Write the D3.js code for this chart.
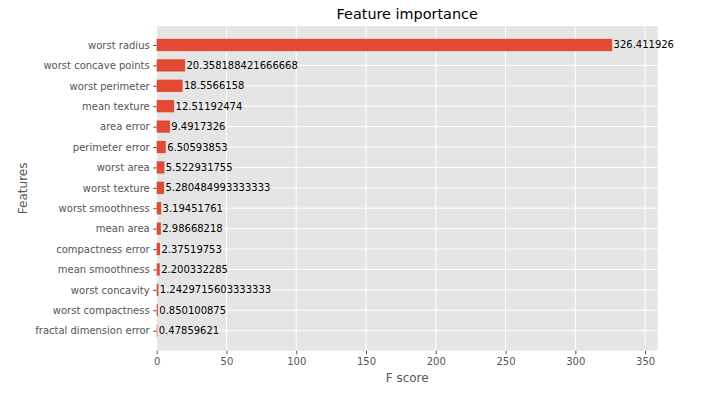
<!DOCTYPE html>
<html>
<head>
<meta charset="utf-8">
<script src="https://cdn.jsdelivr.net/npm/d3@7"></script>
<style>
  body { margin: 0; background: #fff; }
  svg { font-family: "DejaVu Sans", sans-serif; }
</style>
</head>
<body>
<svg id="chart" width="701" height="407"></svg>
<script>
// features listed bottom to top, like matplotlib's barh
var features = [
    "fractal dimension error", "worst compactness", "worst concavity",
    "mean smoothness", "compactness error", "mean area", "worst smoothness",
    "worst texture", "worst area", "perimeter error", "area error",
    "mean texture", "worst perimeter", "worst concave points", "worst radius"
];
var scores = [
    0.47859621, 0.850100875, 1.2429715603333333,
    2.200332285, 2.37519753, 2.98668218, 3.19451761,
    5.280484993333333, 5.522931755, 6.50593853, 9.4917326,
    12.51192474, 18.5566158, 20.358188421666668, 326.411926
];
var scoreLabels = [
    "0.47859621", "0.850100875", "1.2429715603333333",
    "2.200332285", "2.37519753", "2.98668218", "3.19451761",
    "5.280484993333333", "5.522931755", "6.50593853", "9.4917326",
    "12.51192474", "18.5566158", "20.358188421666668", "326.411926"
];
var xTicks = [0, 50, 100, 150, 200, 250, 300, 350];

var svg = d3.select("#chart");
// note: "top" is taken by window.top, so use plot* names
var plotLeft = 156.7, plotRight = 657.7, plotTop = 26, plotBottom = 350.7;
var barHeight = 0.6;

var x = d3.scaleLinear()
    .domain([0, d3.max(scores) * 1.1])
    .range([plotLeft, plotRight]);

var y = d3.scaleLinear()
    .domain([-0.98, 14.93])
    .range([plotBottom, plotTop]);

var grey = "#555555";

// panel background
svg.append("rect")
    .attr("x", plotLeft).attr("y", plotTop)
    .attr("width", plotRight - plotLeft).attr("height", plotBottom - plotTop)
    .attr("fill", "#e5e5e5");

// grid
svg.append("g").selectAll("line")
    .data(xTicks)
    .enter().append("line")
    .attr("x1", function(d) { return x(d); })
    .attr("x2", function(d) { return x(d); })
    .attr("y1", plotTop).attr("y2", plotBottom)
    .attr("stroke", "#fff").attr("stroke-width", 1);

svg.append("g").selectAll("line")
    .data(features)
    .enter().append("line")
    .attr("x1", plotLeft).attr("x2", plotRight)
    .attr("y1", function(d, i) { return y(i); })
    .attr("y2", function(d, i) { return y(i); })
    .attr("stroke", "#fff").attr("stroke-width", 1);

// bars
var bandPx = y(0) - y(barHeight);
svg.append("g").selectAll("rect")
    .data(scores)
    .enter().append("rect")
    .attr("x", x(0))
    .attr("y", function(d, i) { return y(i + barHeight / 2); })
    .attr("width", function(d) { return x(d) - x(0); })
    .attr("height", bandPx)
    .attr("fill", "#E24A33");

// value labels, offset by 1 like xgboost does
svg.append("g").selectAll("text")
    .data(scores)
    .enter().append("text")
    .attr("x", function(d) { return x(d + 1); })
    .attr("y", function(d, i) { return y(i); })
    .attr("dy", "0.35em")
    .attr("font-size", 10)
    .attr("fill", "#000")
    .text(function(d, i) { return scoreLabels[i]; });

// axes
var xAxis = d3.axisBottom(x)
    .tickValues(xTicks)
    .tickSize(3.5)
    .tickPadding(3.5);
var gx = svg.append("g")
    .attr("transform", "translate(0," + plotBottom + ")")
    .call(xAxis);

var yAxis = d3.axisLeft(y)
    .tickValues(d3.range(features.length))
    .tickFormat(function(i) { return features[i]; })
    .tickSize(3.5)
    .tickPadding(3.5);
var gy = svg.append("g")
    .attr("transform", "translate(" + plotLeft + ",0)")
    .call(yAxis);

[gx, gy].forEach(function(g) {
    g.select(".domain").remove();
    g.selectAll(".tick line").attr("stroke", grey);
    g.selectAll(".tick text")
        .attr("fill", grey)
        .attr("font-size", 10)
        .attr("font-family", "DejaVu Sans, sans-serif");
});

// titles
svg.append("text")
    .attr("x", (plotLeft + plotRight) / 2)
    .attr("y", 19)
    .attr("text-anchor", "middle")
    .attr("font-size", 14.4)
    .attr("fill", "#000")
    .text("Feature importance");

svg.append("text")
    .attr("x", (plotLeft + plotRight) / 2)
    .attr("y", 382)
    .attr("text-anchor", "middle")
    .attr("font-size", 12)
    .attr("fill", grey)
    .text("F score");

svg.append("text")
    .attr("transform", "translate(27," + ((plotTop + plotBottom) / 2) + ") rotate(-90)")
    .attr("text-anchor", "middle")
    .attr("font-size", 12)
    .attr("fill", grey)
    .text("Features");
</script>
</body>
</html>
